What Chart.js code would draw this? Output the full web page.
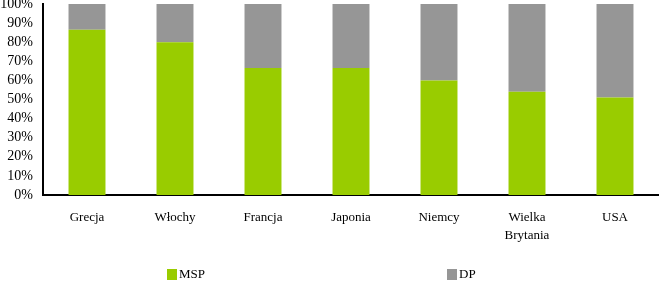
<!DOCTYPE html>
<html>
<head>
<meta charset="utf-8">
<script src="https://cdn.jsdelivr.net/npm/chart.js@4/dist/chart.umd.min.js"></script>
<style>
  html, body { margin: 0; padding: 0; background: #fff; }
  #wrap { position: relative; width: 659px; height: 283px; }
  .legend-item { position: absolute; top: 267px; font: 13px 'Liberation Serif', serif; color: #000; line-height: 14px; }
  .legend-item span.box { display: inline-block; width: 10px; height: 11px; vertical-align: -2px; margin-right: 2px; }
</style>
</head>
<body>
<div id="wrap">
  <canvas id="chart" width="659" height="283"></canvas>
  <div class="legend-item" style="left:167px;"><span class="box" style="background:#99cc00;"></span>MSP</div>
  <div class="legend-item" style="left:447px;"><span class="box" style="background:#969696;"></span>DP</div>
</div>
<script>
const categories = ['Grecja', 'Włochy', 'Francja', 'Japonia', 'Niemcy', ['Wielka', 'Brytania'], 'USA'];
const mspValues = [86.5, 80, 66.5, 66.5, 60, 54, 51];
const dpValues = [13.5, 20, 33.5, 33.5, 40, 46, 49];
const yTicks = [0, 10, 20, 30, 40, 50, 60, 70, 80, 90, 100];

document.addEventListener('DOMContentLoaded', () => {
    const serif = "'Liberation Serif', 'Times New Roman', serif";
    Chart.defaults.font.family = serif;
    Chart.defaults.font.size = 13;
    Chart.defaults.color = '#000';

    const ctx = document.getElementById('chart').getContext('2d');
    new Chart(ctx, {
        type: 'bar',
        data: {
            labels: categories,
            datasets: [
                { label: 'MSP', data: mspValues, backgroundColor: '#99cc00', borderWidth: 0 },
                { label: 'DP', data: dpValues, backgroundColor: '#969696', borderWidth: 0 }
            ]
        },
        options: {
            responsive: false,
            animation: false,
            datasets: { bar: { categoryPercentage: 1, barPercentage: 0.42 } },
            layout: { padding: { top: 4, right: 0, bottom: 0, left: 0 } },
            plugins: {
                legend: { display: false },
                tooltip: { enabled: false }
            },
            scales: {
                x: {
                    stacked: true,
                    grid: { display: false },
                    border: { display: true, color: '#000', width: 2 },
                    ticks: { padding: 6, maxRotation: 0, font: { size: 13, lineHeight: 1.35 } },
                    afterFit: scale => {
                        scale.height = 88;
                        scale.paddingLeft = 0;
                        scale.paddingRight = 0;
                    }
                },
                y: {
                    stacked: true,
                    min: 0,
                    max: 100,
                    afterBuildTicks: scale => { scale.ticks = yTicks.map(v => ({ value: v })); },
                    grid: { display: false },
                    border: { display: true, color: '#000', width: 2 },
                    ticks: {
                        padding: 2,
                        font: { size: 14, lineHeight: 1 },
                        callback: v => v + '%'
                    },
                    afterFit: scale => {
                        scale.width = 43;
                        scale.paddingTop = 0;
                        scale.paddingBottom = 0;
                    }
                }
            }
        }
    });
});
</script>
</body>
</html>
